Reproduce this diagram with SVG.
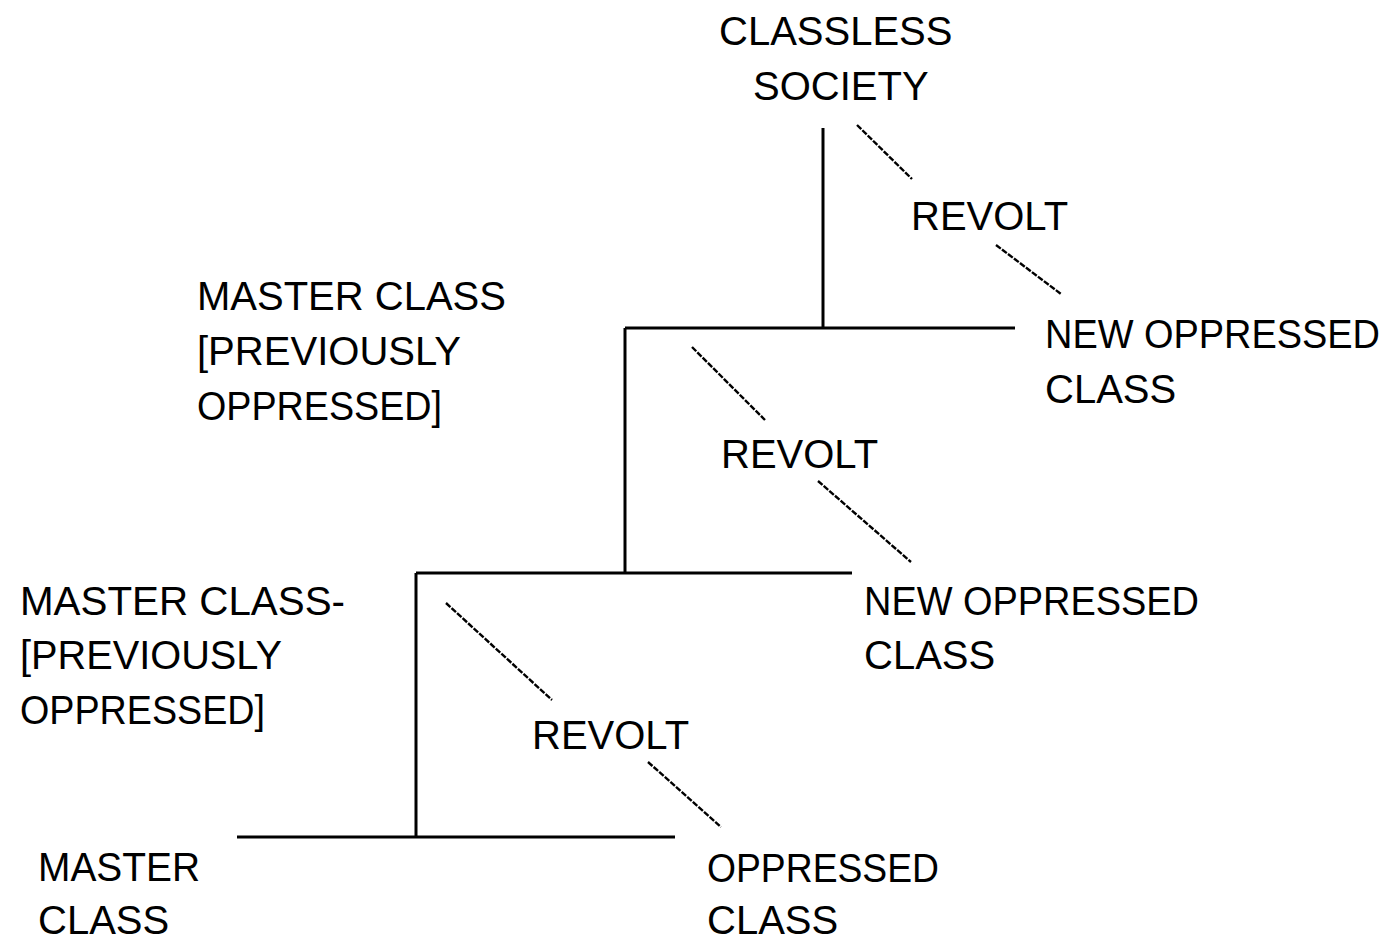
<svg xmlns="http://www.w3.org/2000/svg" width="1386" height="938" viewBox="0 0 1386 938">
<style>
text{font-family:"Liberation Sans",Arial,sans-serif;font-size:40px;fill:#000}
.br{stroke:#000;stroke-width:3;fill:none;stroke-linecap:butt}
.dg{stroke:#000;stroke-width:2.4;fill:none;stroke-dasharray:6 1.5}
</style>
<rect width="1386" height="938" fill="#fff"/>
<g id="connectors">
<line class="br" x1="823" y1="128" x2="823" y2="328"/>
<line class="br" x1="625" y1="328" x2="1015" y2="328"/>
<line class="br" x1="625" y1="328" x2="625" y2="573"/>
<line class="br" x1="416" y1="573" x2="852" y2="573"/>
<line class="br" x1="416" y1="573" x2="416" y2="837"/>
<line class="br" x1="237" y1="837" x2="675" y2="837"/>
<line class="dg" x1="857" y1="125" x2="912" y2="179"/>
<line class="dg" x1="996" y1="245" x2="1061" y2="294"/>
<line class="dg" x1="692" y1="347" x2="765" y2="420"/>
<line class="dg" x1="818" y1="481" x2="911" y2="562"/>
<line class="dg" x1="446" y1="603" x2="552" y2="700"/>
<line class="dg" x1="648" y1="762" x2="721" y2="827"/>
</g>
<g id="classless"><text x="719" y="45">CLASSLESS</text><text x="753" y="100">SOCIETY</text></g>
<g id="revolt1"><text x="911" y="230">REVOLT</text></g>
<g id="new-oppressed-1"><text x="1045" y="348" textLength="335" lengthAdjust="spacingAndGlyphs">NEW OPPRESSED</text><text x="1045" y="403">CLASS</text></g>
<g id="master-1"><text x="197" y="310">MASTER CLASS</text><text x="197" y="365" textLength="264" lengthAdjust="spacingAndGlyphs">[PREVIOUSLY</text><text x="197" y="420" textLength="245" lengthAdjust="spacingAndGlyphs">OPPRESSED]</text></g>
<g id="revolt2"><text x="721" y="468">REVOLT</text></g>
<g id="new-oppressed-2"><text x="864" y="615" textLength="335" lengthAdjust="spacingAndGlyphs">NEW OPPRESSED</text><text x="864" y="669">CLASS</text></g>
<g id="master-2"><text x="20" y="615" textLength="325" lengthAdjust="spacingAndGlyphs">MASTER CLASS-</text><text x="20" y="669" textLength="262" lengthAdjust="spacingAndGlyphs">[PREVIOUSLY</text><text x="20" y="724" textLength="245" lengthAdjust="spacingAndGlyphs">OPPRESSED]</text></g>
<g id="revolt3"><text x="532" y="749">REVOLT</text></g>
<g id="master"><text x="38" y="881" textLength="162" lengthAdjust="spacingAndGlyphs">MASTER</text><text x="38" y="934">CLASS</text></g>
<g id="oppressed"><text x="707" y="882" textLength="232" lengthAdjust="spacingAndGlyphs">OPPRESSED</text><text x="707" y="934">CLASS</text></g>
</svg>
